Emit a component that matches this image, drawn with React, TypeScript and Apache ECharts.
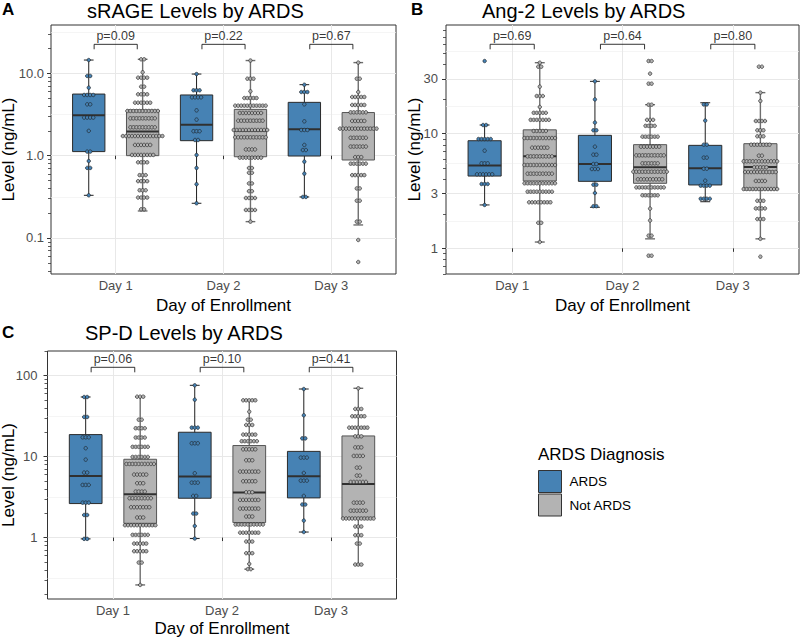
import React, { useEffect, useRef } from 'react';
import * as echarts from 'echarts';

// ---------- DATA ----------
const DAYS = ['Day 1', 'Day 2', 'Day 3'];
const GROUPS = ['ARDS', 'Not ARDS'];

// dot rows: [value (ng/mL), number of dots in the row]
const sRAGE_day1_ARDS = [[14.5, 1], [9.3, 2], [6.7, 1], [5.46, 4], [4.2, 2], [2.9, 4], [2.0, 1], [1.12, 2], [0.86, 1], [0.71, 2], [0.33, 1]];
const sRAGE_day1_NotARDS = [[14.8, 2], [10.3, 1], [8.86, 4], [6.89, 2], [5.56, 4], [4.4, 6], [3.49, 11], [2.84, 9], [2.21, 9], [1.73, 14], [1.35, 6], [1.02, 8], [0.83, 4], [0.58, 3], [0.49, 4], [0.38, 3], [0.31, 4], [0.223, 2]];
const sRAGE_day2_ARDS = [[9.8, 1], [6.22, 3], [5.11, 4], [3.55, 1], [2.74, 1], [1.98, 3], [1.55, 2], [1.02, 1], [0.71, 1], [0.45, 1], [0.264, 1]];
const sRAGE_day2_NotARDS = [[14.3, 1], [8.61, 3], [6.04, 1], [5.01, 5], [4.05, 11], [3.3, 8], [2.66, 9], [2.05, 12], [1.67, 11], [1.19, 4], [0.946, 8], [0.708, 2], [0.62, 2], [0.46, 2], [0.37, 2], [0.306, 4], [0.219, 4], [0.158, 1]];
const sRAGE_day3_ARDS = [[7.28, 1], [5.93, 3], [4.2, 1], [2.61, 1], [2.05, 3], [1.35, 1], [1.17, 2], [0.846, 1], [0.605, 1], [0.315, 2]];
const sRAGE_day3_NotARDS = [[13.5, 1], [8.61, 2], [5.93, 1], [5.16, 5], [4.13, 5], [3.36, 6], [2.64, 5], [2.13, 13], [1.65, 6], [1.29, 6], [0.96, 3], [0.8, 6], [0.58, 5], [0.4, 2], [0.284, 2], [0.158, 2], [0.0946, 1], [0.0511, 1]];

const Ang2_day1_ARDS = [[43.0, 1], [11.9, 2], [8.98, 5], [7.11, 1], [5.51, 3], [4.42, 6], [3.64, 3], [2.39, 1]];
const Ang2_day1_NotARDS = [[41.6, 1], [38.4, 2], [25.7, 1], [21.3, 3], [17.1, 1], [15.2, 5], [13.2, 7], [10.55, 5], [9.16, 11], [7.55, 6], [6.34, 9], [5.33, 11], [4.48, 9], [3.69, 11], [3.12, 9], [2.52, 8], [1.67, 2], [1.135, 1]];
const Ang2_day2_ARDS = [[28.6, 1], [19.9, 1], [12.5, 1], [10.7, 2], [7.7, 1], [6.56, 2], [5.44, 2], [4.92, 3], [3.59, 2], [3.04, 1], [2.33, 2]];
const Ang2_day2_NotARDS = [[43.0, 2], [33.4, 1], [27.3, 2], [17.9, 2], [13.2, 3], [11.7, 4], [9.42, 6], [7.7, 7], [6.47, 10], [5.51, 6], [4.66, 12], [4.0, 9], [3.4, 10], [2.9, 6], [2.22, 1], [1.75, 1], [1.29, 2], [0.863, 2]];
const Ang2_day3_ARDS = [[18.0, 2], [13.0, 1], [8.02, 2], [6.18, 2], [4.95, 2], [3.89, 1], [3.52, 4], [2.71, 4]];
const Ang2_day3_NotARDS = [[38.4, 2], [22.8, 1], [19.3, 1], [12.9, 4], [10.7, 3], [9.48, 3], [8.02, 7], [6.43, 2], [5.74, 12], [5.09, 5], [4.63, 11], [3.87, 4], [3.29, 12], [2.6, 3], [2.23, 4], [1.8, 3], [1.21, 1], [0.846, 1]];

const SPD_day1_ARDS = [[54.5, 2], [30.9, 2], [17.3, 3], [12.7, 1], [9.18, 1], [6.35, 2], [4.47, 3], [2.7, 3], [1.9, 2], [0.963, 2]];
const SPD_day1_NotARDS = [[55, 3], [28.6, 2], [22.4, 4], [17.2, 4], [13.2, 6], [9.91, 6], [8.12, 10], [6.0, 5], [4.69, 3], [3.7, 4], [3.06, 8], [2.37, 7], [1.77, 3], [1.42, 11], [1.08, 6], [0.843, 5], [0.678, 5], [0.491, 2], [0.26, 1]];
const SPD_day2_ARDS = [[76, 1], [50.5, 1], [22.8, 3], [14.6, 3], [6.23, 1], [4.77, 3], [3.27, 2], [1.98, 2], [1.39, 1], [0.972, 1]];
const SPD_day2_NotARDS = [[49.6, 5], [35.9, 1], [28.6, 2], [24.6, 3], [18.7, 5], [15.5, 6], [12.3, 5], [9.01, 3], [6.53, 7], [4.96, 5], [3.63, 3], [2.92, 7], [2.28, 7], [1.82, 3], [1.45, 10], [1.15, 7], [0.893, 3], [0.641, 3], [0.473, 1], [0.407, 2]];
const SPD_day3_ARDS = [[68.4, 1], [32.4, 1], [16.8, 2], [9.72, 3], [6.28, 1], [5.05, 3], [3.27, 1], [2.56, 2], [1.62, 1], [1.17, 1]];
const SPD_day3_NotARDS = [[69.8, 1], [38.8, 3], [31.5, 5], [22.8, 7], [17.8, 3], [13.0, 3], [10.2, 4], [7.31, 2], [5.83, 2], [4.87, 6], [2.7, 4], [2.15, 6], [1.72, 11], [1.37, 3], [1.07, 3], [0.843, 2], [0.464, 3]];

// box statistics per day: [lower whisker, Q1, median, Q3, upper whisker]
const sRAGE_box_ARDS = [[0.33, 1.12, 3.09, 5.6, 14.5], [0.264, 1.52, 2.38, 5.46, 9.8], [0.315, 0.99, 2.09, 4.44, 7.28]];
const sRAGE_box_NotARDS = [[0.213, 1.0, 1.96, 3.59, 14.8], [0.158, 0.97, 2.01, 3.65, 14.3], [0.144, 0.886, 2.13, 3.34, 13.5]];
const Ang2_box_ARDS = [[2.39, 4.27, 5.29, 8.68, 11.9], [2.28, 3.84, 5.44, 9.67, 28.6], [2.55, 3.57, 4.99, 7.91, 18.6]];
const Ang2_box_NotARDS = [[1.135, 3.87, 6.34, 10.8, 41.6], [1.21, 3.69, 5.09, 8.02, 17.9], [1.21, 3.23, 5.12, 8.18, 22.8]];
const SPD_box_ARDS = [[0.963, 2.63, 5.77, 18.7, 54.5], [0.972, 3.06, 5.66, 20.0, 76], [1.17, 3.09, 5.72, 11.6, 68.4]];
const SPD_box_NotARDS = [[0.26, 1.5, 3.43, 9.27, 55], [0.407, 1.53, 3.59, 13.7, 49.6], [0.464, 1.73, 4.6, 18.0, 69.8]];

// p-values per day and bracket levels [bar, tip] (ng/mL)
const sRAGE_p = ['0.09', '0.22', '0.67'];
const Ang2_p = ['0.69', '0.64', '0.80'];
const SPD_p = ['0.06', '0.10', '0.41'];
const sRAGE_bracket = [22.5, 19.6];
const Ang2_bracket = [60.2, 54.4];
const SPD_bracket = [126.8, 110];

// y tick labels
const sRAGE_ticks = [0.1, 1, 10];
const sRAGE_tickLabels = ['0.1', '1.0', '10.0'];
const Ang2_ticks = [1, 3, 10, 30];
const Ang2_tickLabels = ['1', '3', '10', '30'];
const SPD_ticks = [1, 10, 100];
const SPD_tickLabels = ['1', '10', '100'];

// ---------- LAYOUT / STYLE ----------
const FONT = '"Liberation Sans", Arial, Helvetica, sans-serif';
const BLUE = '#4682b4';
const GREY = '#b3b3b3';
const DODGE = 0.25;
const BOX_WIDTH = 0.3;
const CAP_RATIO = 0.3;
const DOT_STEP = 3.05;
const DOT_SIZE = 3.5;

const panels = [
  {
    letter: 'A', title: 'sRAGE Levels by ARDS',
    grid: { left: 51, top: 25, width: 345, height: 249 },
    yLog: [-1.4374, 1.587], labelMargin: 7,
    ticks: sRAGE_ticks, tickLabels: sRAGE_tickLabels,
    dots: [[sRAGE_day1_ARDS, sRAGE_day2_ARDS, sRAGE_day3_ARDS], [sRAGE_day1_NotARDS, sRAGE_day2_NotARDS, sRAGE_day3_NotARDS]],
    boxes: [sRAGE_box_ARDS, sRAGE_box_NotARDS],
    p: sRAGE_p, bracket: sRAGE_bracket,
    letterPos: [2, 9], titlePos: [87, 10.5], yTitlePos: [8.5, 149.5], xTitleY: 305,
  },
  {
    letter: 'B', title: 'Ang-2 Levels by ARDS',
    grid: { left: 446, top: 25, width: 353, height: 249 },
    yLog: [-0.2238, 1.9477], labelMargin: 8,
    ticks: Ang2_ticks, tickLabels: Ang2_tickLabels,
    dots: [[Ang2_day1_ARDS, Ang2_day2_ARDS, Ang2_day3_ARDS], [Ang2_day1_NotARDS, Ang2_day2_NotARDS, Ang2_day3_NotARDS]],
    boxes: [Ang2_box_ARDS, Ang2_box_NotARDS],
    p: Ang2_p, bracket: Ang2_bracket,
    letterPos: [411, 9], titlePos: [482, 10.5], yTitlePos: [414, 149.5], xTitleY: 305,
  },
  {
    letter: 'C', title: 'SP-D Levels by ARDS',
    grid: { left: 47.5, top: 351, width: 349, height: 248 },
    yLog: [-0.7589, 2.3045], labelMargin: 10,
    ticks: SPD_ticks, tickLabels: SPD_tickLabels,
    dots: [[SPD_day1_ARDS, SPD_day2_ARDS, SPD_day3_ARDS], [SPD_day1_NotARDS, SPD_day2_NotARDS, SPD_day3_NotARDS]],
    boxes: [SPD_box_ARDS, SPD_box_NotARDS],
    p: SPD_p, bracket: SPD_bracket,
    letterPos: [2, 332], titlePos: [85, 333], yTitlePos: [8.8, 475], xTitleY: 628,
  },
];

const groupStyle = [
  { fill: BLUE, stroke: '#2b2b2b', whisker: '#1f1f1f', whiskerWidth: 1 },
  { fill: GREY, stroke: '#555555', whisker: '#6e6e6e', whiskerWidth: 1.4 },
];

function minorBreaks(majorLogs: number[], lo: number, hi: number) {
  const b = majorLogs.slice();
  const bd = b[1] - b[0];
  if (lo < b[0]) b.unshift(b[0] - bd);
  if (hi > b[b.length - 1]) b.push(b[b.length - 1] + bd);
  const out: number[] = [];
  for (let i = 0; i < b.length - 1; i++) out.push((b[i] + b[i + 1]) / 2);
  return out.filter((v) => v > lo && v < hi);
}

function logTicks(lo: number, hi: number) {
  const out: number[] = [];
  for (let n = Math.floor(lo) - 1; n <= Math.ceil(hi); n++) {
    for (let k = 2; k <= 9; k++) {
      const v = Math.log10(k) + n;
      if (v > lo && v < hi) out.push(v);
    }
  }
  return out;
}

function makeBox(st: any) {
  return (params: any, api: any) => {
    const x = api.value(0);
    const pMax = api.coord([x, api.value(5)]);
    const yQ3 = api.coord([x, api.value(4)])[1];
    const yMed = api.coord([x, api.value(3)])[1];
    const yQ1 = api.coord([x, api.value(2)])[1];
    const yMin = api.coord([x, api.value(1)])[1];
    const xc = pMax[0];
    const yMax = pMax[1];
    const w = api.size([BOX_WIDTH, 0])[0];
    const cw = w * CAP_RATIO;
    const ws = { stroke: st.whisker, lineWidth: st.whiskerWidth };
    return {
      type: 'group',
      children: [
        { type: 'line', shape: { x1: xc, y1: yMax, x2: xc, y2: yMin }, style: ws },
        { type: 'line', shape: { x1: xc - cw / 2, y1: yMax, x2: xc + cw / 2, y2: yMax }, style: ws },
        { type: 'line', shape: { x1: xc - cw / 2, y1: yMin, x2: xc + cw / 2, y2: yMin }, style: ws },
        { type: 'rect', shape: { x: xc - w / 2, y: yQ3, width: w, height: yQ1 - yQ3 }, style: { fill: st.fill, stroke: st.stroke, lineWidth: 1 } },
        { type: 'line', shape: { x1: xc - w / 2, y1: yMed, x2: xc + w / 2, y2: yMed }, style: { stroke: '#303030', lineWidth: 2 } },
      ],
    };
  };
}

function buildOption() {
  const grids: any[] = [];
  const xAxes: any[] = [];
  const yAxes: any[] = [];
  const series: any[] = [];
  const graphics: any[] = [];

  panels.forEach((p, i) => {
    grids.push({ ...p.grid, show: true, borderColor: '#333333', borderWidth: 1, backgroundColor: '#ffffff', containLabel: false });
    xAxes.push({
      type: 'value', gridIndex: i, min: 0.4, max: 3.6,
      axisLine: { show: false },
      axisTick: { show: true, customValues: [1, 2, 3], length: 3.5, lineStyle: { color: '#333333' } },
      axisLabel: { customValues: [1, 2, 3], formatter: (v: number) => DAYS[Math.round(v) - 1] || '', color: '#4d4d4d', fontSize: 13, margin: 5, fontFamily: FONT },
      splitLine: { show: true, lineStyle: { color: '#e8e8e8', width: 1 } },
    });
    const [lo, hi] = p.yLog;
    const majors = p.ticks.map((t) => Math.log10(t));
    const fmt = (v: number) => {
      const idx = majors.findIndex((m) => Math.abs(m - v) < 1e-6);
      return idx >= 0 ? p.tickLabels[idx] : '';
    };
    yAxes.push({
      type: 'value', gridIndex: i, min: lo, max: hi, position: 'left',
      axisLine: { show: false },
      axisTick: { show: true, customValues: majors, length: 4, lineStyle: { color: '#333333' } },
      axisLabel: { customValues: majors, formatter: fmt, color: '#4d4d4d', fontSize: 13, margin: p.labelMargin, fontFamily: FONT },
      splitLine: { show: true, lineStyle: { color: '#e8e8e8', width: 1 } },
    });
    yAxes.push({
      type: 'value', gridIndex: i, min: lo, max: hi, position: 'left',
      axisLine: { show: false },
      axisTick: { show: false, customValues: minorBreaks(majors, lo, hi) },
      axisLabel: { show: false },
      splitLine: { show: true, lineStyle: { color: '#f1f1f1', width: 0.7 } },
    });
    yAxes.push({
      type: 'value', gridIndex: i, min: lo, max: hi, position: 'left',
      axisLine: { show: false },
      axisTick: { show: true, customValues: logTicks(lo, hi), length: 3, lineStyle: { color: '#333333', width: 0.8 } },
      axisLabel: { show: false },
      splitLine: { show: false },
    });

    const yMain = i * 3;
    [0, 1].forEach((g) => {
      const st = groupStyle[g];
      const off = g === 0 ? -DODGE : DODGE;
      const boxData = p.boxes[g].map((s, d) => [d + 1 + off, ...s.map((v) => Math.log10(v))]);
      series.push({
        type: 'custom', name: GROUPS[g], xAxisIndex: i, yAxisIndex: yMain,
        renderItem: makeBox(st), data: boxData,
        encode: { x: 0, y: [1, 2, 3, 4, 5] },
        itemStyle: { color: st.fill, borderColor: '#333333', borderWidth: 1 },
        z: 2, silent: true,
      });
      const dots: any[] = [];
      p.dots[g].forEach((rows, d) => {
        rows.forEach(([v, n]) => {
          for (let k = 0; k < n; k++) {
            dots.push({ value: [d + 1 + off, Math.log10(v)], symbolOffset: [(k - (n - 1) / 2) * DOT_STEP, 0] });
          }
        });
      });
      series.push({
        type: 'scatter', name: GROUPS[g] + ' values', xAxisIndex: i, yAxisIndex: yMain,
        symbol: 'circle', symbolSize: DOT_SIZE, data: dots,
        itemStyle: { color: st.fill, borderColor: '#1a1a1a', borderWidth: 0.6, opacity: 1 },
        z: 3, silent: true,
      });
    });

    const bar = Math.log10(p.bracket[0]);
    const tip = Math.log10(p.bracket[1]);
    p.p.forEach((pv, d) => {
      const c = d + 1;
      series.push({
        type: 'line', xAxisIndex: i, yAxisIndex: yMain,
        data: [[c - 0.2, tip], [c - 0.2, bar], [c + 0.2, bar], [c + 0.2, tip]],
        symbol: 'none', lineStyle: { color: '#000000', width: 0.8 }, silent: true, z: 4,
      });
      series.push({
        type: 'scatter', xAxisIndex: i, yAxisIndex: yMain,
        data: [[c, bar]], symbolSize: 1, itemStyle: { color: 'rgba(0,0,0,0)' },
        label: { show: true, position: 'top', distance: 1, formatter: 'p=' + pv, fontSize: 12.5, color: '#000000', fontFamily: FONT },
        silent: true, z: 4,
      });
    });

    graphics.push({ type: 'text', x: p.letterPos[0], y: p.letterPos[1], style: { text: p.letter, font: 'bold 17px ' + FONT, fill: '#000', textAlign: 'left', textVerticalAlign: 'middle' } });
    graphics.push({ type: 'text', x: p.titlePos[0], y: p.titlePos[1], style: { text: p.title, font: '20px ' + FONT, fill: '#000', textAlign: 'left', textVerticalAlign: 'middle' } });
    graphics.push({ type: 'text', x: p.yTitlePos[0], y: p.yTitlePos[1], rotation: Math.PI / 2, style: { text: 'Level (ng/mL)', font: '17px ' + FONT, fill: '#000', textAlign: 'center', textVerticalAlign: 'middle' } });
    graphics.push({ type: 'text', x: p.grid.left + p.grid.width / 2, y: p.xTitleY, style: { text: 'Day of Enrollment', font: '17px ' + FONT, fill: '#000', textAlign: 'center', textVerticalAlign: 'middle' } });
  });

  graphics.push({ type: 'text', x: 538, y: 454, style: { text: 'ARDS Diagnosis', font: '17px ' + FONT, fill: '#000', textAlign: 'left', textVerticalAlign: 'middle' } });

  return {
    animation: false,
    backgroundColor: '#ffffff',
    textStyle: { fontFamily: FONT },
    grid: grids,
    xAxis: xAxes,
    yAxis: yAxes,
    legend: {
      data: GROUPS, orient: 'vertical', left: 538, top: 470, padding: 0,
      itemWidth: 23, itemHeight: 22, itemGap: 0.5, icon: 'rect', selectedMode: false,
      itemStyle: { borderColor: '#333333', borderWidth: 1 },
      textStyle: { fontSize: 13.5, color: '#000', fontFamily: FONT, padding: [0, 0, 0, 3] },
    },
    graphic: { elements: graphics },
    series,
  };
}

export default function App() {
  const ref = useRef<HTMLDivElement>(null);
  useEffect(() => {
    if (!ref.current) return;
    const chart = echarts.init(ref.current, undefined, { renderer: 'svg' });
    chart.setOption(buildOption() as any);
    return () => chart.dispose();
  }, []);
  return <div ref={ref} style={{ position: 'fixed', left: 0, top: 0, width: 800, height: 637, background: '#fff' }} />;
}
